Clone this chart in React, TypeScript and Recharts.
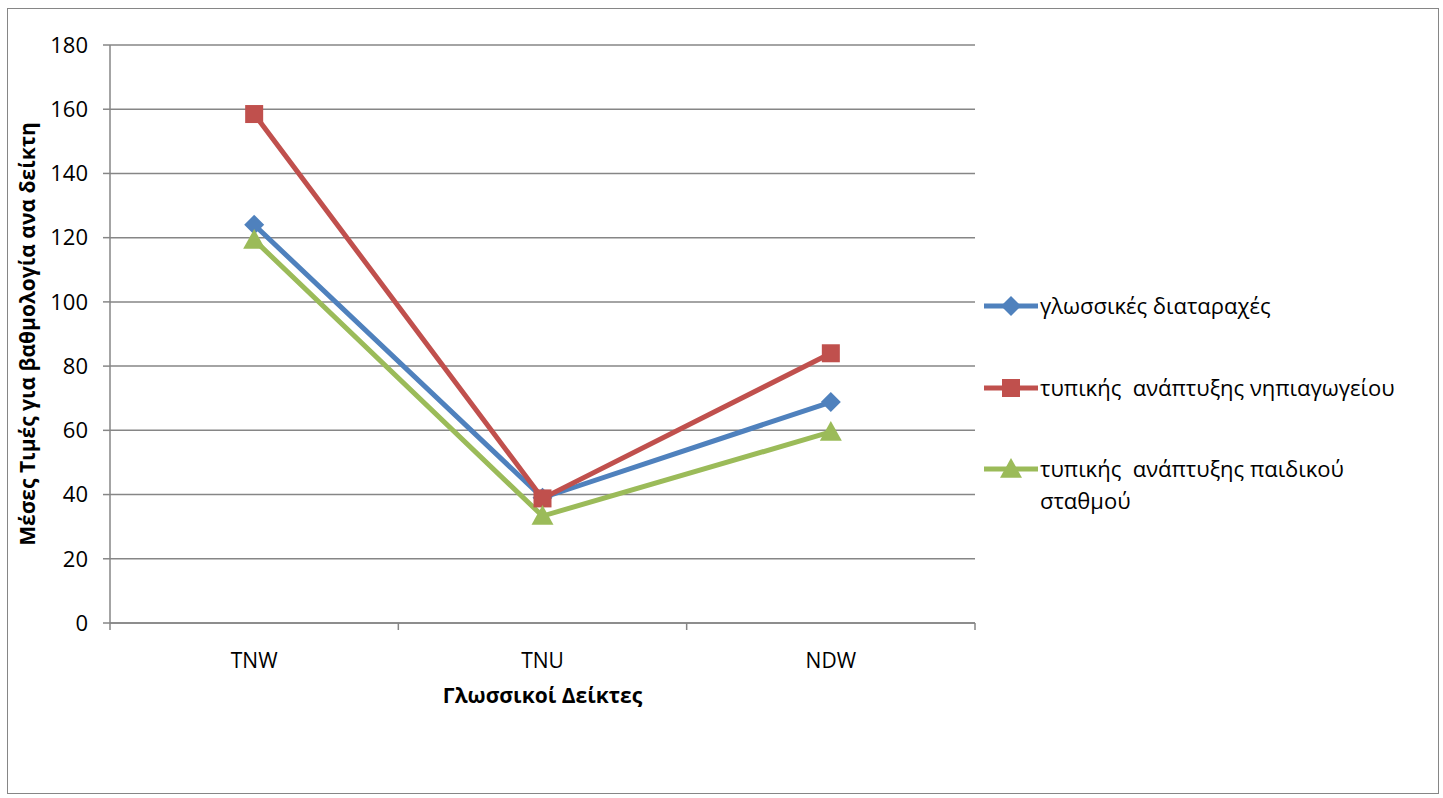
import React from "react";
import { LineChart, Line, XAxis, YAxis, CartesianGrid } from "recharts";

const categories = ["TNW", "TNU", "NDW"];
const glossikes = [124, 39, 68.8];
const nipiagogeiou = [158.5, 38.8, 84];
const paidikou = [119.3, 33.3, 59.5];
const yTicks = [0, 20, 40, 60, 80, 100, 120, 140, 160, 180];

const series = [
  { key: "a", name: "γλωσσικές διαταραχές", color: "#4F81BD", shape: "diamond" },
  { key: "b", name: "τυπικής  ανάπτυξης νηπιαγωγείου", color: "#C0504D", shape: "square" },
  { key: "c", name: "τυπικής  ανάπτυξης παιδικού σταθμού", color: "#9BBB59", shape: "triangle" },
];

const data = categories.map((c, i) => ({
  cat: c,
  a: glossikes[i],
  b: nipiagogeiou[i],
  c: paidikou[i],
}));

const FONT = "'Open Sans', 'Noto Sans', sans-serif";
const GRID = "#868686";
const PLOT_LEFT = 110;
const PLOT_RIGHT = 975;
const BAND = (PLOT_RIGHT - PLOT_LEFT) / categories.length;

function Marker({ cx, cy, shape, color }: any) {
  if (cx == null || cy == null) return null;
  if (shape === "diamond") {
    const r = 10;
    return <polygon points={`${cx},${cy - r} ${cx + r},${cy} ${cx},${cy + r} ${cx - r},${cy}`} fill={color} />;
  }
  if (shape === "square") {
    const s = 9;
    return <rect x={cx - s} y={cy - s} width={s * 2} height={s * 2} fill={color} />;
  }
  const r = 11;
  return <polygon points={`${cx},${cy - r} ${cx + r},${cy + r * 0.8} ${cx - r},${cy + r * 0.8}`} fill={color} />;
}

function XTick({ x, y, payload, index }: any) {
  return (
    <g>
      <line x1={x - BAND / 2} x2={x - BAND / 2} y1={y - 8} y2={y - 1} stroke={GRID} strokeWidth={1.5} />
      {index === categories.length - 1 && (
        <line x1={x + BAND / 2} x2={x + BAND / 2} y1={y - 8} y2={y - 1} stroke={GRID} strokeWidth={1.5} />
      )}
      <text x={x} y={y + 37} textAnchor="middle" fontFamily={FONT} fontSize={21} fill="#000">
        {payload.value}
      </text>
    </g>
  );
}

function LegendBox() {
  const rows = [
    { ...series[0], lines: ["γλωσσικές διαταραχές"], top: 306 },
    { ...series[1], lines: ["τυπικής  ανάπτυξης νηπιαγωγείου"], top: 388 },
    { ...series[2], lines: ["τυπικής  ανάπτυξης παιδικού", "σταθμού"], top: 469 },
  ];
  return (
    <svg width={460} height={260} style={{ position: "absolute", left: 980, top: 280, overflow: "visible" }}>
      {rows.map((r) => {
        const y = r.top - 280;
        return (
          <g key={r.key}>
            <line x1={4} x2={58} y1={y} y2={y} stroke={r.color} strokeWidth={5} />
            <Marker cx={31} cy={y} shape={r.shape} color={r.color} />
            {r.lines.map((t, j) => (
              <text key={j} x={60} y={y + 8 + j * 32} fontFamily={FONT} fontSize={22} fill="#000" style={{ whiteSpace: "pre" }}>
                {t}
              </text>
            ))}
          </g>
        );
      })}
    </svg>
  );
}

export default function App() {
  return (
    <div style={{ position: "absolute", left: 0, top: 0, width: 1443, height: 798, background: "#fff" }}>
      <div
        style={{
          position: "absolute",
          left: 7,
          top: 8,
          width: 1432,
          height: 786,
          border: `1px solid ${GRID}`,
          boxSizing: "border-box",
        }}
      />
      <LineChart
        width={1443}
        height={798}
        data={data}
        margin={{ top: 45, right: 1443 - PLOT_RIGHT, left: 50, bottom: 145 }}
        style={{ position: "absolute", left: 0, top: 0 }}
      >
        <CartesianGrid vertical={false} stroke={GRID} strokeWidth={1.5} />
        <XAxis
          dataKey="cat"
          stroke={GRID}
          strokeWidth={1.5}
          tickLine={false}
          height={30}
          tick={<XTick />}
          interval={0}
          padding={{ left: BAND / 2, right: BAND / 2 }}
          label={{
            value: "Γλωσσικοί Δείκτες",
            position: "insideBottom",
            offset: -50,
            fill: "#000",
            fontFamily: FONT,
            fontSize: 21,
            fontWeight: "bold",
          }}
        />
        <YAxis
          domain={[0, 180]}
          ticks={yTicks}
          width={60}
          stroke={GRID}
          strokeWidth={1.5}
          tickSize={7}
          tickMargin={15}
          tick={{ fill: "#000", fontFamily: FONT, fontSize: 22 }}
          label={{
            value: "Μέσες Τιμές για βαθμολογία ανα δείκτη",
            angle: -90,
            position: "insideLeft",
            offset: -22,
            fill: "#000",
            fontFamily: FONT,
            fontSize: 21,
            fontWeight: "bold",
            style: { textAnchor: "middle" },
          }}
        />
        {series.map((s) => (
          <Line
            key={s.key}
            dataKey={s.key}
            name={s.name}
            stroke={s.color}
            strokeWidth={5}
            isAnimationActive={false}
            dot={(p: any) => <Marker key={p.index} cx={p.cx} cy={p.cy} shape={s.shape} color={s.color} />}
            activeDot={false}
          />
        ))}
      </LineChart>
      <LegendBox />
    </div>
  );
}
